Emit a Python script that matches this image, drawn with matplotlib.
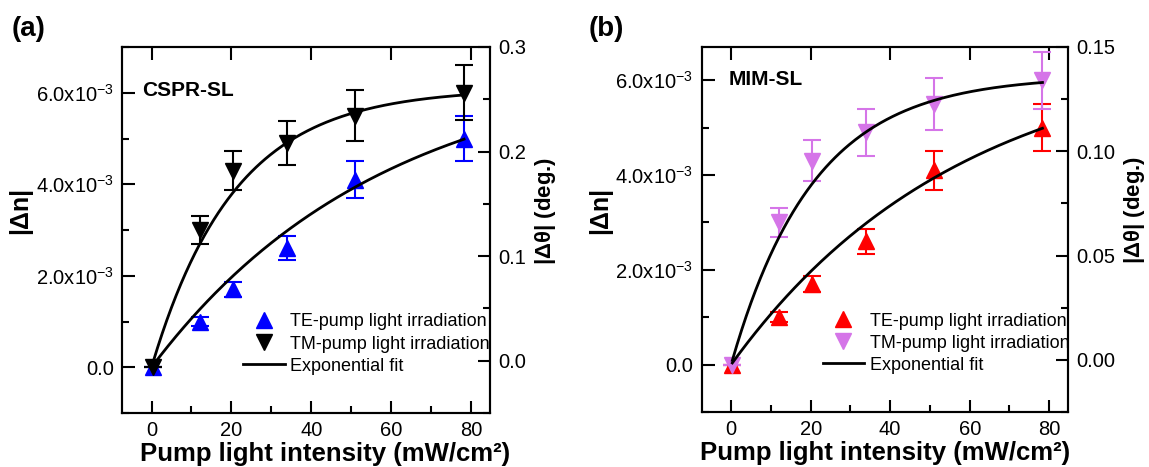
import numpy as np
import matplotlib
matplotlib.use("Agg")
import matplotlib.pyplot as plt
from matplotlib.lines import Line2D
from matplotlib.ticker import MultipleLocator, FuncFormatter, FormatStrFormatter

plt.rcParams["font.family"] = ["Liberation Sans", "DejaVu Sans"]
plt.rcParams["mathtext.fontset"] = "custom"
plt.rcParams["mathtext.rm"] = "Liberation Sans"
plt.rcParams["mathtext.bf"] = "Liberation Sans:bold"

# pump light intensity (mW/cm^2)
intensity = [0.3, 12.1, 20.4, 34.0, 51.0, 78.3]

# |dn| under TE / TM pump irradiation (same for both structures)
dn_te = [0.0, 1.0e-3, 1.7e-3, 2.6e-3, 4.1e-3, 5.0e-3]
dn_tm = [0.0, 3.0e-3, 4.3e-3, 4.9e-3, 5.5e-3, 6.0e-3]
err_te = [0.0, 0.10e-3, 0.17e-3, 0.26e-3, 0.41e-3, 0.50e-3]
err_tm = [0.0, 0.30e-3, 0.43e-3, 0.49e-3, 0.55e-3, 0.60e-3]

# exponential fit  y = amp * (1 - exp(-x / tau))
fit_te = (6.73e-3, 58.0)
fit_tm = (6.09e-3, 20.7)

panels = ["(a)", "(b)"]
samples = ["CSPR-SL", "MIM-SL"]
te_colors = ["#0000FF", "#FF0000"]
tm_colors = ["#000000", "#D575E8"]


def sci_label(v, pos):
    if abs(v) < 1e-9:
        return "0.0"
    return r"$\mathregular{%.1fx10^{-3}}$" % (v / 1e-3)


def style_axis(ax):
    for s in ax.spines.values():
        s.set_linewidth(1.5)
    ax.tick_params(which="both", direction="in", width=1.5, labelsize=14.5)
    ax.tick_params(which="major", length=9)
    ax.tick_params(which="minor", length=5)


def draw_panel(ax, i, ylim, ylim2, step2, fmt2, sample_pos, xlabel_x, r_label_x):
    ax.errorbar(intensity, dn_te, yerr=err_te, fmt="^", color=te_colors[i], ms=11,
                capsize=6.5, elinewidth=1.5, capthick=1.5)
    ax.errorbar(intensity, dn_tm, yerr=err_tm, fmt="v", color=tm_colors[i], ms=11,
                capsize=6.5, elinewidth=1.5, capthick=1.5)

    xs = np.linspace(intensity[0], intensity[-1], 200)
    for amp, tau in [fit_te, fit_tm]:
        ax.plot(xs, amp * (1 - np.exp(-xs / tau)), color="black", lw=2, zorder=5)

    ax.set_xlim(-7.4, 84.8)
    ax.set_ylim(*ylim)
    ax.xaxis.set_major_locator(MultipleLocator(20))
    ax.xaxis.set_minor_locator(MultipleLocator(10))
    ax.yaxis.set_major_locator(MultipleLocator(2e-3))
    ax.yaxis.set_minor_locator(MultipleLocator(1e-3))
    ax.yaxis.set_major_formatter(FuncFormatter(sci_label))
    style_axis(ax)
    ax.tick_params(axis="x", top=True, pad=6)
    ax.tick_params(axis="y", pad=6)

    ax.set_xlabel("Pump light intensity (mW/cm²)", fontsize=18.5, fontweight="bold")
    ax.xaxis.set_label_coords(xlabel_x, -0.08)
    ax.set_ylabel("|Δn|", fontsize=18, fontweight="bold")
    ax.yaxis.set_label_coords(-0.245, 0.553)

    ax.text(sample_pos[0], sample_pos[1], samples[i], transform=ax.transAxes,
            fontsize=15, fontweight="bold", va="center", ha="left")

    handles = [
        Line2D([], [], ls="none", marker="^", ms=11, color=te_colors[i]),
        Line2D([], [], ls="none", marker="v", ms=11, color=tm_colors[i]),
        Line2D([], [], color="black", lw=2),
    ]
    labels = ["TE-pump light irradiation", "TM-pump light irradiation", "Exponential fit"]
    ax.legend(handles, labels, loc="lower left", bbox_to_anchor=(0.33, 0.105),
              frameon=False, fontsize=13, borderpad=0, borderaxespad=0,
              handlelength=2.3, handletextpad=0.3, labelspacing=0.28)

    ax2 = ax.twinx()
    ax2.set_ylim(*ylim2)
    ax2.yaxis.set_major_locator(MultipleLocator(step2))
    ax2.yaxis.set_minor_locator(MultipleLocator(step2 / 2))
    ax2.yaxis.set_major_formatter(FormatStrFormatter(fmt2))
    style_axis(ax2)
    ax2.tick_params(axis="y", pad=6)
    ax2.set_ylabel(r"$\mathregular{|Δθ|}$ (deg.)", fontsize=16, fontweight="bold")
    ax2.yaxis.set_label_coords(r_label_x, 0.553)


fig = plt.figure(figsize=(11.49, 4.67), dpi=100)
ax_a = fig.add_axes([122 / 1149, 54 / 467, 368 / 1149, 366 / 467])
ax_b = fig.add_axes([701.7 / 1149, 55 / 467, 366.6 / 1149, 365 / 467])

draw_panel(ax_a, 0, (-1e-3, 7e-3), (-0.05, 0.3), 0.1, "%.1f", (0.056, 0.88), 0.552, 1.117)
draw_panel(ax_b, 1, (-1e-3, 6.7e-3), (-0.025, 0.15), 0.05, "%.2f", (0.073, 0.91), 0.5, 1.146)

fig.text(12 / 1149, 1 - 16 / 467, panels[0], fontsize=20, fontweight="bold", va="top")
fig.text(589 / 1149, 1 - 16 / 467, panels[1], fontsize=20, fontweight="bold", va="top")

fig.savefig("out.png", dpi=100)
